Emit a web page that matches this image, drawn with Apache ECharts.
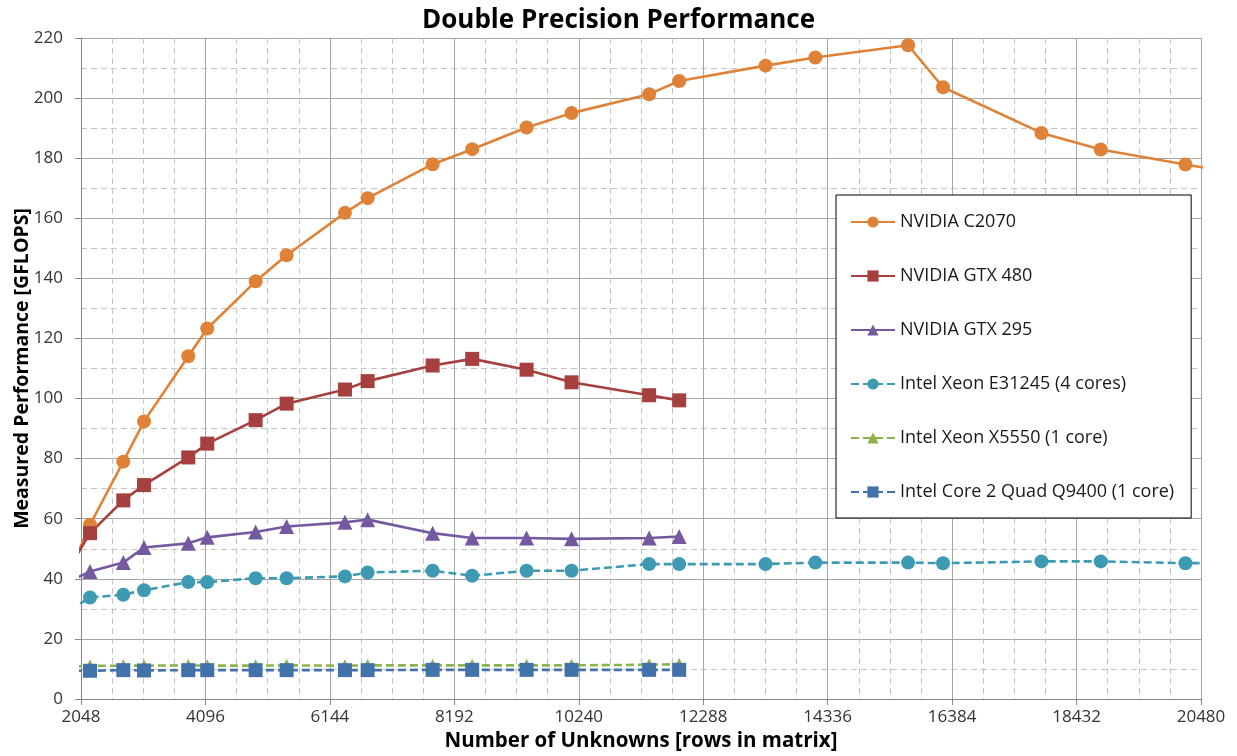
<!DOCTYPE html>
<html>
<head>
<meta charset="utf-8">
<script src="https://cdn.jsdelivr.net/npm/echarts@6/dist/echarts.min.js"></script>
<style>html,body{margin:0;padding:0;background:#fff}#chart{width:1237px;height:756px}</style>
</head>
<body>
<div id="chart"></div>
<script>
// Matrix sizes (shared x values); the first and last entries lie outside the visible axis range
const sizes = [1536, 2196, 2744, 3085, 3813, 4126, 4922, 5432, 6392, 6765, 7835, 8486, 9381, 10121, 11398, 11892, 13313, 14133, 15659, 16235, 17854, 18830, 20224, 22528];
const xTicks = [2048, 4096, 6144, 8192, 10240, 12288, 14336, 16384, 18432, 20480];

const seriesNames = ['NVIDIA C2070', 'NVIDIA GTX 480', 'NVIDIA GTX 295', 'Intel Xeon E31245 (4 cores)', 'Intel Xeon X5550 (1 core)', 'Intel Core 2 Quad Q9400 (1 core)'];
const c2070  = [27, 58, 79, 92.4, 114.1, 123.3, 139, 147.7, 161.8, 166.7, 178, 183, 190.2, 195, 201.3, 205.7, 210.8, 213.5, 217.6, 203.6, 188.4, 182.9, 177.9, 170];
const gtx480 = [33, 55.2, 66.1, 71.2, 80.4, 85, 92.8, 98.3, 103, 105.8, 111, 113.2, 109.6, 105.4, 101.1, 99.4];
const gtx295 = [36.2, 42.4, 45.4, 50.4, 51.8, 53.8, 55.6, 57.4, 58.8, 59.7, 55.2, 53.6, 53.6, 53.3, 53.6, 54.1];
const e31245 = [25.3, 33.8, 34.7, 36.2, 38.9, 38.9, 40.2, 40.2, 40.8, 42.1, 42.7, 41, 42.7, 42.7, 44.9, 44.9, 44.9, 45.4, 45.4, 45.2, 45.8, 45.8, 45.2, 45.4];
const x5550  = [10.6, 11, 11.1, 11.1, 11.2, 11.1, 11.1, 11.2, 11.1, 11.2, 11.2, 11.2, 11.2, 11.2, 11.4, 11.6];
const q9400  = [9.4, 9.4, 9.6, 9.5, 9.6, 9.6, 9.6, 9.6, 9.6, 9.6, 9.7, 9.7, 9.7, 9.7, 9.7, 9.7];

const colors = ['#DF8238', '#A5403E', '#7459A0', '#3D9AB2', '#8DB24A', '#4172A9'];
const symbols = ['circle', 'rect', 'triangle', 'circle', 'triangle', 'rect'];
const symbolSizes = [14, 14, 15, 14, 13, 14];
const dashed = [false, false, false, true, true, true];
const values = [c2070, gtx480, gtx295, e31245, x5550, q9400];

const FONT = 'Open Sans';

const series = values.map((vals, i) => ({
  name: seriesNames[i],
  type: 'line',
  data: vals.map((v, j) => [sizes[j], v]),
  symbol: symbols[i],
  symbolSize: symbolSizes[i],
  showAllSymbol: true,
  clip: true,
  itemStyle: { color: colors[i] },
  lineStyle: { color: colors[i], width: 2.6, type: dashed[i] ? [8, 4] : 'solid' },
  emphasis: { disabled: true },
  animation: false
}));

const chart = echarts.init(document.getElementById('chart'), null, { renderer: 'canvas' });
chart.setOption({
  backgroundColor: '#ffffff',
  animation: false,
  color: colors,
  title: {
    text: 'Double Precision Performance',
    left: 'center',
    top: 3,
    textStyle: { fontFamily: FONT, fontSize: 26, fontWeight: 'bold', color: '#000' }
  },
  grid: { left: 81, right: 36, top: 38, bottom: 57, containLabel: false, outerBoundsMode: 'none' },
  legend: {
    orient: 'vertical',
    left: 836,
    top: 195,
    backgroundColor: '#ffffff',
    borderColor: '#000',
    borderWidth: 1,
    padding: [18, 17, 17, 14],
    itemGap: 36,
    itemWidth: 44,
    itemHeight: 14,
    textStyle: { fontFamily: FONT, fontSize: 18, color: '#1a1a1a' },
    data: seriesNames
  },
  xAxis: {
    type: 'value',
    min: 2048,
    max: 20480,
    interval: 2048,
    name: 'Number of Unknowns [rows in matrix]',
    nameLocation: 'middle',
    nameGap: 29,
    nameTextStyle: { fontFamily: FONT, fontSize: 20.5, fontWeight: 'bold', color: '#000' },
    axisLine: { show: true, lineStyle: { color: '#868686', width: 1 } },
    axisTick: { show: true, length: 6, lineStyle: { color: '#868686' } },
    axisLabel: { fontFamily: FONT, fontSize: 17, color: '#333', margin: 10,
      formatter: v => xTicks.includes(v) ? String(v) : '' },
    splitLine: { show: true, lineStyle: { color: '#A6A6A6', width: 1 } },
    minorTick: { show: false, splitNumber: 4 },
    minorSplitLine: { show: true, lineStyle: { color: '#C4C4C4', width: 1, type: [6, 4] } }
  },
  yAxis: {
    type: 'value',
    min: 0,
    max: 220,
    interval: 20,
    name: 'Measured Performance [GFLOPS]',
    nameLocation: 'middle',
    nameGap: 49,
    nameMoveOverlap: false,
    nameTextStyle: { fontFamily: FONT, fontSize: 19.5, fontWeight: 'bold', color: '#000' },
    axisLine: { show: true, lineStyle: { color: '#868686', width: 1 } },
    axisTick: { show: true, length: 6, lineStyle: { color: '#868686' } },
    axisLabel: { fontFamily: FONT, fontSize: 17, color: '#333', margin: 18 },
    splitLine: { show: true, lineStyle: { color: '#A6A6A6', width: 1 } },
    minorTick: { show: false, splitNumber: 2 },
    minorSplitLine: { show: true, lineStyle: { color: '#C4C4C4', width: 1, type: [6, 4] } }
  },
  series: series
});
</script>
</body>
</html>
